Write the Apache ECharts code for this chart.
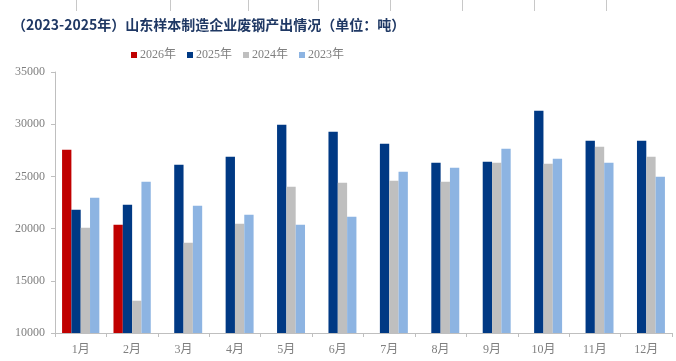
<!DOCTYPE html>
<html>
<head>
<meta charset="utf-8">
<script src="https://cdn.jsdelivr.net/npm/echarts@6/dist/echarts.min.js"></script>
<style>
html,body{margin:0;padding:0;background:#fff;}
#chart{width:676px;height:361px;}
</style>
</head>
<body>
<div id="chart"></div>
<script>
var titleText = '（2023-2025年）山东样本制造企业废钢产出情况（单位：吨）';
var categories = ['1月','2月','3月','4月','5月','6月','7月','8月','9月','10月','11月','12月'];
var seriesNames = ['2026年','2025年','2024年','2023年'];
var data2026 = [27550, 20370, null, null, null, null, null, null, null, null, null, null];
var data2025 = [21810, 22290, 26120, 26890, 29950, 29280, 28130, 26310, 26410, 31290, 28420, 28420];
var data2024 = [20090, 13090, 18650, 20470, 24010, 24400, 24590, 24490, 26310, 26220, 27850, 26890];
var data2023 = [22960, 24490, 22190, 21330, 20370, 21140, 25450, 25830, 27650, 26700, 26310, 24970];
var yTicks = [10000, 15000, 20000, 25000, 30000, 35000];

var colors = ['#c00000', '#003984', '#bfbfbf', '#8db4e2'];
var serifFont = '"Liberation Serif", "Noto Sans CJK SC", serif';
var allData = [data2026, data2025, data2024, data2023];

var chart = echarts.init(document.getElementById('chart'), null, {renderer: 'canvas'});

var topLines = [76, 170, 248, 318, 390, 462, 534, 606].map(function (x) {
  return {type: 'line', shape: {x1: x + 0.5, y1: 0, x2: x + 0.5, y2: 11}, style: {stroke: '#c8c8c8', lineWidth: 1}, silent: true};
});

chart.setOption({
  animation: false,
  backgroundColor: '#ffffff',
  title: {
    text: titleText,
    left: 7,
    top: 13,
    textStyle: {fontFamily: '"Noto Sans CJK SC", sans-serif', fontSize: 14, fontWeight: 'bold', color: '#1f3864'}
  },
  graphic: topLines,
  legend: {
    data: seriesNames,
    left: 126,
    top: 44,
    itemWidth: 6,
    itemHeight: 6,
    itemGap: 11,
    icon: 'rect',
    textStyle: {fontFamily: serifFont, fontSize: 12, color: '#7f7f7f', padding: [0, 0, 0, -2]}
  },
  grid: {left: 55, right: 4, top: 72, bottom: 28, containLabel: false},
  xAxis: {
    type: 'category',
    data: categories,
    axisLine: {lineStyle: {color: '#bfbfbf'}},
    axisTick: {show: true, length: 4, lineStyle: {color: '#bfbfbf'}},
    axisLabel: {fontFamily: serifFont, fontSize: 12, color: '#7f7f7f', margin: 11}
  },
  yAxis: {
    type: 'value',
    min: yTicks[0],
    max: yTicks[yTicks.length - 1],
    interval: 5000,
    axisLine: {show: true, lineStyle: {color: '#bfbfbf'}},
    axisTick: {show: true, length: 4, lineStyle: {color: '#bfbfbf'}},
    splitLine: {show: false},
    axisLabel: {fontFamily: serifFont, fontSize: 12, color: '#7f7f7f', margin: 10, formatter: function (v) { return String(v); }}
  },
  series: seriesNames.map(function (n, i) {
    return {
      name: n,
      type: 'bar',
      data: allData[i],
      itemStyle: {color: colors[i]},
      barGap: '0%',
      barCategoryGap: '27.5%'
    };
  })
});
</script>
</body>
</html>
